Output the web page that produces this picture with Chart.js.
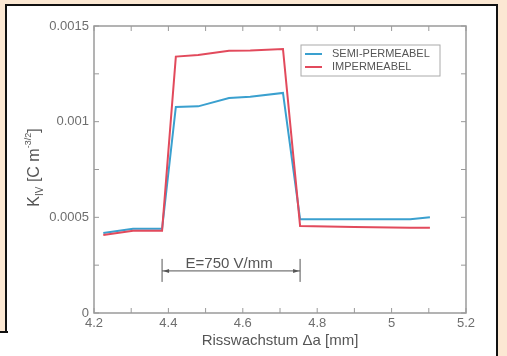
<!DOCTYPE html>
<html>
<head>
<meta charset="utf-8">
<script src="https://cdn.jsdelivr.net/npm/chart.js@4/dist/chart.umd.min.js"></script>
<style>
  html, body { margin: 0; padding: 0; }
  body { width: 507px; height: 356px; background: #fce8d3; position: relative; overflow: hidden; }
  #frame { position: absolute; left: 5px; top: 4px; width: 493px; height: 400px; background: #fff; border: 2px solid #111; box-sizing: border-box; }
  #corner { position: absolute; left: 0; top: 331px; width: 8px; height: 30px; background: #fff; border-top: 2px solid #111; }
  canvas { position: absolute; left: 0; top: 0; }
</style>
</head>
<body>
<div id="frame"></div>
<div id="corner"></div>
<canvas id="chart" width="507" height="356"></canvas>
<script>
var growth = [4.225, 4.305, 4.383, 4.42, 4.48, 4.563, 4.62, 4.708, 4.754, 4.9, 5.05, 5.103]
var semiPermeabel = [0.000418, 0.00044, 0.00044, 0.001077, 0.00108, 0.001124, 0.00113, 0.00115, 0.00049, 0.00049, 0.00049, 0.0005]
var impermeabel = [0.000408, 0.00043, 0.00043, 0.00134, 0.001348, 0.00137, 0.001372, 0.00138, 0.000455, 0.00045, 0.000445, 0.000445]
var seriesNames = ['SEMI-PERMEABEL', 'IMPERMEABEL']
var xTicks = [4.2, 4.4, 4.6, 4.8, 5, 5.2]
var yTicks = [0, 0.0005, 0.001, 0.0015]
var fieldRange = [4.383, 4.754]
var fieldLevel = 0.00022
var fieldLabel = 'E=750 V/mm'

var blue = '#3aa0cf'
var red = '#e24a5c'
var grey = '#6e6e6e'
var font = '"Liberation Sans", Arial, sans-serif'

function points(values) {
    return growth.map((x, i) => ({x: x, y: values[i]}))
}

var framePlugin = {
    id: 'frame',
    afterDraw(chart) {
        var ctx = chart.ctx
        var a = chart.chartArea
        var xs = chart.scales.x, ys = chart.scales.y
        ctx.save()
        ctx.strokeStyle = '#9a9a9a'
        ctx.lineWidth = 1.5
        ctx.strokeRect(a.left, a.top, a.right - a.left, a.bottom - a.top)
        ctx.lineWidth = 1
        // inward ticks, major and minor
        for (var i = 0; i < xTicks.length; i++) {
            var vals = [xTicks[i]]
            if (i < xTicks.length - 1) vals.push((xTicks[i] + xTicks[i + 1]) / 2)
            vals.forEach(v => {
                var px = xs.getPixelForValue(v)
                ctx.beginPath()
                ctx.moveTo(px, a.bottom); ctx.lineTo(px, a.bottom - 5)
                ctx.moveTo(px, a.top); ctx.lineTo(px, a.top + 5)
                ctx.stroke()
            })
        }
        for (var j = 0; j < yTicks.length; j++) {
            var yv = [yTicks[j]]
            if (j < yTicks.length - 1) yv.push((yTicks[j] + yTicks[j + 1]) / 2)
            yv.forEach(v => {
                var py = ys.getPixelForValue(v)
                ctx.beginPath()
                ctx.moveTo(a.left, py); ctx.lineTo(a.left + 5, py)
                ctx.moveTo(a.right, py); ctx.lineTo(a.right - 5, py)
                ctx.stroke()
            })
        }

        // legend box
        var lx = a.right - 165, ly = a.top + 19
        ctx.strokeStyle = '#aaa'
        ctx.strokeRect(lx, ly, 139, 31)
        ctx.font = '11px ' + font
        ctx.textBaseline = 'middle'
        chart.data.datasets.slice().reverse().forEach((ds, k) => {
            var yy = ly + 9 + k * 13
            ctx.strokeStyle = ds.borderColor
            ctx.lineWidth = 2
            ctx.beginPath(); ctx.moveTo(lx + 4, yy); ctx.lineTo(lx + 21, yy); ctx.stroke()
            ctx.fillStyle = '#555'
            ctx.fillText(ds.label, lx + 31, yy)
        })

        // field range annotation
        var x0 = xs.getPixelForValue(fieldRange[0]), x1 = xs.getPixelForValue(fieldRange[1])
        var fy = ys.getPixelForValue(fieldLevel)
        ctx.strokeStyle = '#555'
        ctx.fillStyle = '#555'
        ctx.lineWidth = 1
        ctx.beginPath()
        ctx.moveTo(x0, fy - 12); ctx.lineTo(x0, fy + 11)
        ctx.moveTo(x1, fy - 12); ctx.lineTo(x1, fy + 11)
        ctx.moveTo(x0, fy); ctx.lineTo(x1, fy)
        ctx.stroke()
        ctx.beginPath()
        ctx.moveTo(x0 + 1, fy); ctx.lineTo(x0 + 7, fy - 2); ctx.lineTo(x0 + 7, fy + 2); ctx.closePath()
        ctx.moveTo(x1 - 1, fy); ctx.lineTo(x1 - 7, fy - 2); ctx.lineTo(x1 - 7, fy + 2); ctx.closePath()
        ctx.fill()
        ctx.font = '15px ' + font
        ctx.textAlign = 'center'
        ctx.textBaseline = 'alphabetic'
        ctx.fillText(fieldLabel, (x0 + x1) / 2 - 2, fy - 3)

        // y axis title with sub/superscript
        ctx.save()
        ctx.translate(39, (a.top + a.bottom) / 2 - 2)
        ctx.rotate(-Math.PI / 2)
        ctx.fillStyle = '#555'
        ctx.textAlign = 'left'
        var parts = [['K', 16, 0], ['IV', 10, 4], [' [C m', 16, 0], ['-3/2', 9, -8], [']', 16, 0]]
        var total = 0
        parts.forEach(p => { ctx.font = p[1] + 'px ' + font; total += ctx.measureText(p[0]).width })
        var cx = -total / 2
        parts.forEach(p => {
            ctx.font = p[1] + 'px ' + font
            ctx.fillText(p[0], cx, p[2])
            cx += ctx.measureText(p[0]).width
        })
        ctx.restore()
        ctx.restore()
    }
}

new Chart(document.getElementById('chart'), {
    type: 'scatter',
    data: {
        datasets: [
            {label: seriesNames[1], data: points(impermeabel), borderColor: red, backgroundColor: red,
             showLine: true, borderWidth: 2, pointRadius: 0, tension: 0},
            {label: seriesNames[0], data: points(semiPermeabel), borderColor: blue, backgroundColor: blue,
             showLine: true, borderWidth: 2, pointRadius: 0, tension: 0}
        ]
    },
    options: {
        responsive: false,
        animation: false,
        events: [],
        layout: {padding: {top: 26, right: 41, left: 0, bottom: 0}},
        plugins: {legend: {display: false}, tooltip: {enabled: false}},
        scales: {
            x: {
                type: 'linear', min: 4.2, max: 5.2,
                afterBuildTicks: s => { s.ticks = xTicks.map(v => ({value: v})) },
                afterFit: s => { s.height = 43 },
                grid: {display: false, drawTicks: false},
                border: {display: false},
                ticks: {padding: 3, color: grey, font: {family: font, size: 13},
                        callback: v => String(+v.toFixed(1))},
                title: {display: true, text: 'Risswachstum \u0394a [mm]', color: '#555',
                        font: {family: font, size: 15}, padding: {top: 0, bottom: 6}}
            },
            y: {
                min: 0, max: 0.0015,
                afterBuildTicks: s => { s.ticks = yTicks.map(v => ({value: v})) },
                afterFit: s => { s.width = 94 },
                grid: {display: false, drawTicks: false},
                border: {display: false},
                ticks: {padding: 5, color: grey, font: {family: font, size: 13},
                        callback: v => String(+v.toFixed(4))}
            }
        }
    },
    plugins: [framePlugin]
})
</script>
</body>
</html>
